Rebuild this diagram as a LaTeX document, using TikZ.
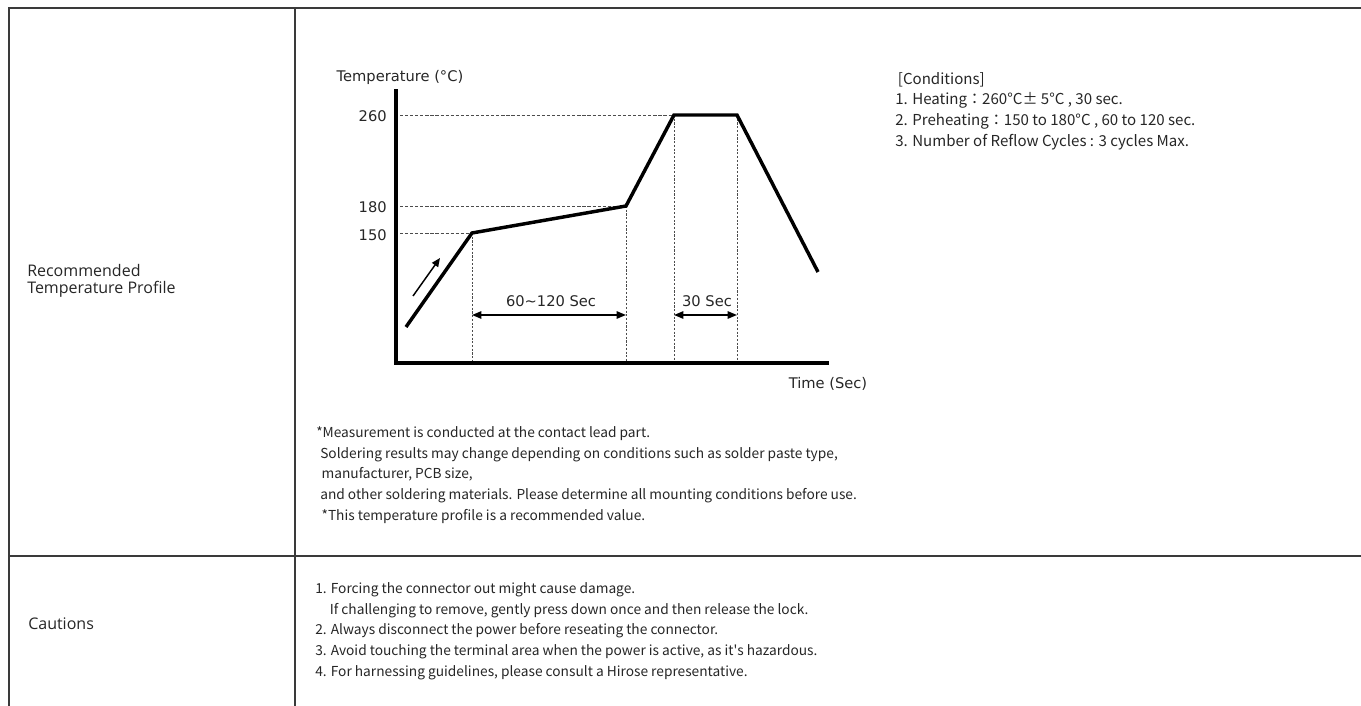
\documentclass[tikz,border=0pt]{standalone}
\usepackage{fontspec}
\setmainfont{Noto Sans CJK JP}
\newfontfamily\chartfont{DejaVu Sans}
\newfontfamily\sidefont{Open Sans}
\usetikzlibrary{arrows.meta}

\definecolor{ink}{HTML}{262626}
\definecolor{rule}{HTML}{3A3A3A}

\begin{document}
\begin{tikzpicture}[x=0.75pt,y=-0.75pt,
  body/.style={anchor=west,inner sep=0pt,text=ink,font=\fontsize{10.3}{15.5}\selectfont,align=left},
  side/.style={anchor=west,inner sep=0pt,text=ink,font=\sidefont\fontsize{12}{13}\selectfont,align=left},
  chart/.style={inner sep=0pt,text=black!85,font=\chartfont\fontsize{11}{13}\selectfont},
  grid/.style={draw=rule,line width=1.5pt},
  axis/.style={line width=2.4pt,line cap=rect},
  curve/.style={line width=2.6pt,line join=miter},
  hguide/.style={black!70,line width=0.6pt,dash pattern=on 2.4pt off 1.4pt},
  vguide/.style={black!70,line width=0.6pt,dash pattern=on 1.6pt off 1.2pt},
  dim/.style={line width=1.2pt,{Triangle[length=7pt,width=5.5pt]}-{Triangle[length=7pt,width=5.5pt]}}]
\useasboundingbox (0,0) rectangle (1361,706);

% table
\draw[grid] (1361,8) -- (9,8) -- (9,706);
\draw[grid] (295,8) -- (295,706);
\draw[grid] (9,556) -- (1361,556);

\node[side] (rowA) at (27,281) {Recommended\\Temperature Profile};
\node[side] (rowB) at (28,624) {Cautions};

% chart
\coordinate (o) at (396,363);
\coordinate (ytop) at (396,91);
\coordinate (xend) at (827,363);
\coordinate (p0) at (406,327);
\coordinate (p1) at (472,233);
\coordinate (p2) at (626,206);
\coordinate (p3) at (674,115);
\coordinate (p4) at (737,115);
\coordinate (p5) at (818,272);
\coordinate (dimrow) at (0,315);

\draw[hguide] (400,115) -- (p3);
\draw[hguide] (400,206) -- (p2);
\draw[hguide] (400,233) -- (p1);
\draw[vguide] (p1) -- (p1 |- o);
\draw[vguide] (p2) -- (p2 |- o);
\draw[vguide] (p3) -- (p3 |- o);
\draw[vguide] (p4) -- (p4 |- o);

\draw[axis] (ytop) -- (o) -- (xend);
\draw[curve] (p0) -- (p1) -- (p2) -- (p3) -- (p4) -- (p5);
\draw[line width=1.1pt,-{Triangle[length=6.5pt,width=5.5pt]}] (413,296) -- (440,258);

\draw[dim] (p1 |- dimrow) -- (p2 |- dimrow);
\draw[dim] (p3 |- dimrow) -- (p4 |- dimrow);

\node[chart] (ylab) at (400,77) {Temperature (°C)};
\node[chart] (xlab) at (828,384) {Time (Sec)};
\node[chart,anchor=east] (t260) at (387,116) {260};
\node[chart,anchor=east] (t180) at (387,207) {180};
\node[chart,anchor=east] (t150) at (387,235) {150};
\node[chart] (span1) at (551,301) {60\textasciitilde120 Sec};
\node[chart] (span2) at (707,301) {30 Sec};

% conditions
\node[body,font=\fontsize{11.3}{15.5}\selectfont] (cond) at (895,111) {\hspace{2pt}[Conditions]\\1. Heating：260°C± 5°C , 30 sec.\\2. Preheating：150 to 180°C , 60 to 120 sec.\\3. Number of Reflow Cycles : 3 cycles Max.};

% notes
\node[body] (note) at (316,475) {*Measurement is conducted at the contact lead part.\\
\hspace{3pt}Soldering results may change depending on conditions such as solder paste type,\\
\hspace{4pt}manufacturer, PCB size,\\
\hspace{3pt}and other soldering materials. Please determine all mounting conditions before use.\\
\hspace{4pt}*This temperature profile is a recommended value.};

\node[body] (caut) at (315,631) {1. Forcing the connector out might cause damage.\\
\hspace{11pt}If challenging to remove, gently press down once and then release the lock.\\
2. Always disconnect the power before reseating the connector.\\
3. Avoid touching the terminal area when the power is active, as it\textquotesingle s hazardous.\\
4. For harnessing guidelines, please consult a Hirose representative.};
\end{tikzpicture}
\end{document}
